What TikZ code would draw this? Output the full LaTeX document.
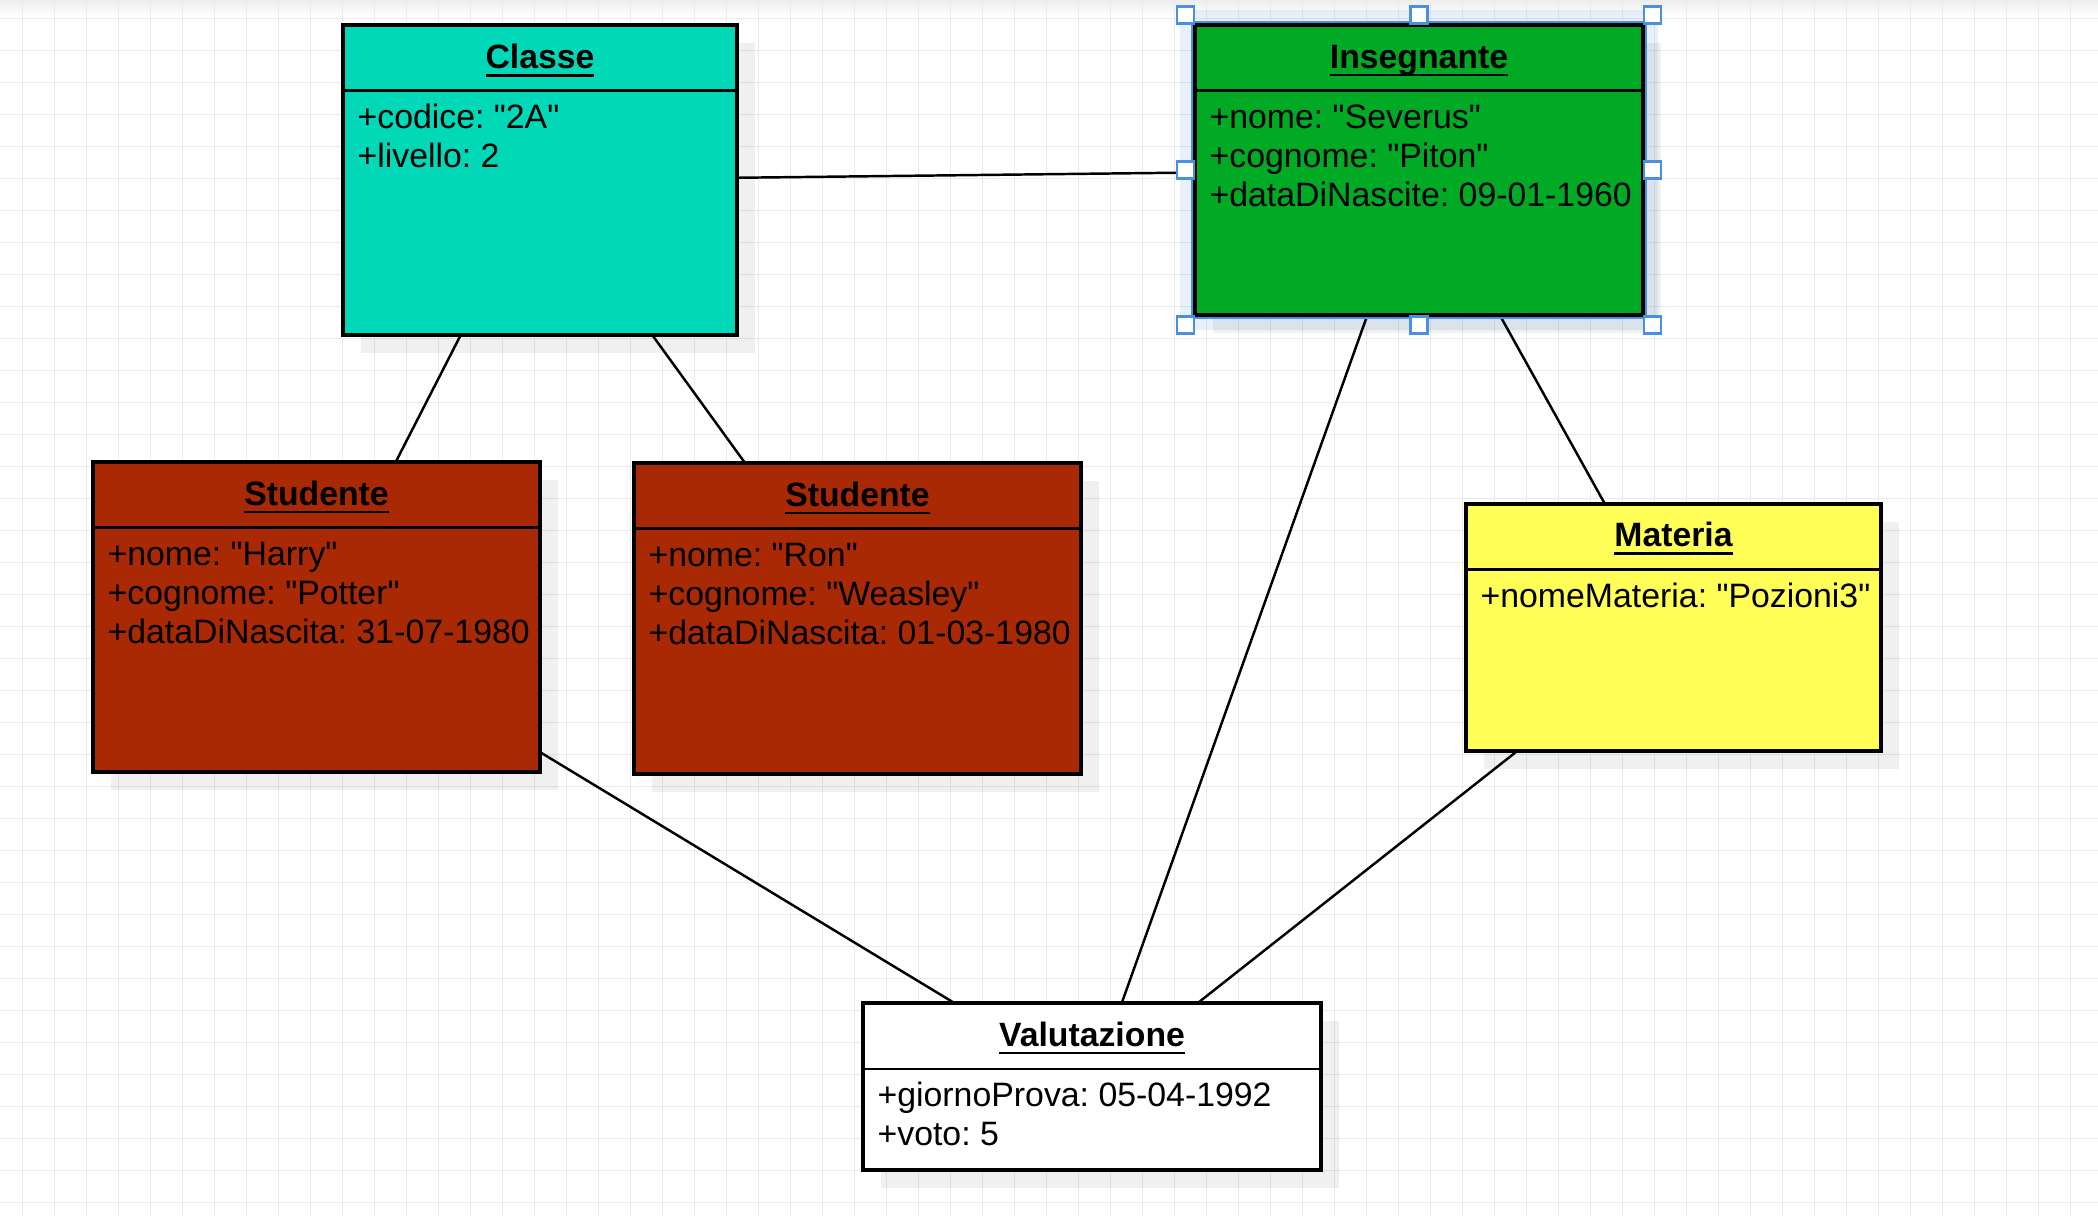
\documentclass[tikz,border=0pt]{standalone}
\usepackage{fontspec}
\setmainfont{Liberation Sans}[Ligatures=TeXOff]
\usepackage{tikz}
\usetikzlibrary{shadows}
\usepackage{xcolor}

\definecolor{classecol}{RGB}{0,216,183}
\definecolor{docentecol}{RGB}{0,170,37}
\definecolor{studentecol}{RGB}{168,41,4}
\definecolor{materiacol}{RGB}{255,255,88}
\definecolor{gridcol}{RGB}{234,234,234}
\definecolor{selcol}{RGB}{74,144,226}

\frenchspacing
\newsavebox{\titlebox}
\newcommand{\utitle}[1]{\sbox{\titlebox}{#1}\rlap{\rule[-2.2pt]{\wd\titlebox}{0.65pt}}\usebox{\titlebox}}
\newcommand{\attrlist}[1]{\begin{tabular}[t]{@{}l@{}}#1\end{tabular}}

\begin{document}
\begin{tikzpicture}[
      x=0.01cm, y=-0.01cm,
      gridline/.style={gridcol, line width=0.4pt},
      umlclass/.style={draw=black, line width=0.95pt, inner sep=0pt, outer sep=0pt,
        drop shadow={shadow xshift=0.18cm, shadow yshift=-0.18cm, fill=black, opacity=0.06}},
      classname/.style={anchor=base, inner sep=0pt, font=\fontsize{9.6}{11.1}\selectfont\bfseries},
      attrs/.style={anchor=base west, inner sep=0pt, font=\fontsize{9.62}{11.1}\selectfont},
      sepline/.style={line width=0.85pt},
      link/.style={line width=0.7pt},
      selhandle/.style={draw=selcol, fill=white, line width=0.7pt, minimum size=0.17cm, inner sep=0pt}
    ]

    % Canvas
    \useasboundingbox (0, 0) rectangle (2098, 1216);
    \fill[white] (0, 0) rectangle (2098, 1216);
    \shade[top color=black!7, bottom color=white] (0, 0) rectangle (2098, 16);
    \foreach \gx in {22.3,54.3,...,2098} \draw[gridline] (\gx, 0) -- (\gx, 1216);
    \foreach \gy in {18.3,50.3,...,1216} \draw[gridline] (0, \gy) -- (2098, \gy);

    % Selection tint
    \fill[selcol, opacity=0.12] (1180, 10) rectangle (1658, 330);

    % Classes
    \node[umlclass, fill=classecol, minimum width=3.94cm, minimum height=3.10cm] (classe) at (540, 180) {};
    \draw[sepline] ([yshift=-0.66cm]classe.north west) -- ([yshift=-0.66cm]classe.north east);
    \node[classname] (classe-name) at ([yshift=-0.44cm]classe.north) {\utitle{Classe}};
    \node[attrs] (classe-attr) at ([xshift=0.14cm, yshift=-1.033cm]classe.north west) {\attrlist{+codice: "2A"\\+livello: 2}};

    \node[umlclass, fill=docentecol, minimum width=4.48cm, minimum height=2.90cm] (insegnante) at (1419, 170) {};
    \draw[sepline] ([yshift=-0.66cm]insegnante.north west) -- ([yshift=-0.66cm]insegnante.north east);
    \node[classname] (insegnante-name) at ([yshift=-0.435cm]insegnante.north) {\utitle{Insegnante}};
    \node[attrs] (insegnante-attr) at ([xshift=0.14cm, yshift=-1.033cm]insegnante.north west) {\attrlist{+nome: "Severus"\\+cognome: "Piton"\\+dataDiNascite: 09-01-1960}};

    \node[umlclass, fill=studentecol, minimum width=4.47cm, minimum height=3.10cm] (harry) at (316.5, 617) {};
    \draw[sepline] ([yshift=-0.66cm]harry.north west) -- ([yshift=-0.66cm]harry.north east);
    \node[classname] (harry-name) at ([yshift=-0.435cm]harry.north) {\utitle{Studente}};
    \node[attrs] (harry-attr) at ([xshift=0.14cm, yshift=-1.033cm]harry.north west) {\attrlist{+nome: "Harry"\\+cognome: "Potter"\\+dataDiNascita: 31-07-1980}};

    \node[umlclass, fill=studentecol, minimum width=4.47cm, minimum height=3.11cm] (ron) at (857.5, 618.5) {};
    \draw[sepline] ([yshift=-0.66cm]ron.north west) -- ([yshift=-0.66cm]ron.north east);
    \node[classname] (ron-name) at ([yshift=-0.435cm]ron.north) {\utitle{Studente}};
    \node[attrs] (ron-attr) at ([xshift=0.14cm, yshift=-1.033cm]ron.north west) {\attrlist{+nome: "Ron"\\+cognome: "Weasley"\\+dataDiNascita: 01-03-1980}};

    \node[umlclass, fill=materiacol, minimum width=4.15cm, minimum height=2.47cm] (materia) at (1673.5, 627.5) {};
    \draw[sepline] ([yshift=-0.66cm]materia.north west) -- ([yshift=-0.66cm]materia.north east);
    \node[classname] (materia-name) at ([yshift=-0.43cm]materia.north) {\utitle{Materia}};
    \node[attrs] (materia-attr) at ([xshift=0.14cm, yshift=-1.033cm]materia.north west) {\attrlist{+nomeMateria: "Pozioni3"}};

    \node[umlclass, fill=white, minimum width=4.58cm, minimum height=1.67cm] (valutazione) at (1092, 1086.5) {};
    \draw[sepline] ([yshift=-0.66cm]valutazione.north west) -- ([yshift=-0.66cm]valutazione.north east);
    \node[classname] (valutazione-name) at ([yshift=-0.435cm]valutazione.north) {\utitle{Valutazione}};
    \node[attrs] (valutazione-attr) at ([xshift=0.14cm, yshift=-1.033cm]valutazione.north west) {\attrlist{+giornoProva: 05-04-1992\\+voto: 5}};

    % Links
    \draw[link] (classe) -- (harry);
    \draw[link] (classe) -- (ron);
    \draw[link] (classe) -- (insegnante);
    \draw[link] (insegnante) -- (materia);
    \draw[link] (insegnante) -- (valutazione);
    \draw[link] (harry) -- (valutazione);
    \draw[link] (materia) -- (valutazione);

    % Selection of Insegnante
    \draw[selcol, line width=0.55pt] ([shift={(-0.03cm,0.03cm)}]insegnante.north west) rectangle ([shift={(0.03cm,-0.03cm)}]insegnante.south east);
    \foreach \a/\dx/\dy [count=\i] in {north west/-1/1, north/0/1, north east/1/1, west/-1/0, east/1/0, south west/-1/-1, south/0/-1, south east/1/-1}
      \node[selhandle] (handle\i) at ([shift={(\dx*0.095cm, \dy*0.1cm)}]insegnante.\a) {};

  \end{tikzpicture}
\end{document}
